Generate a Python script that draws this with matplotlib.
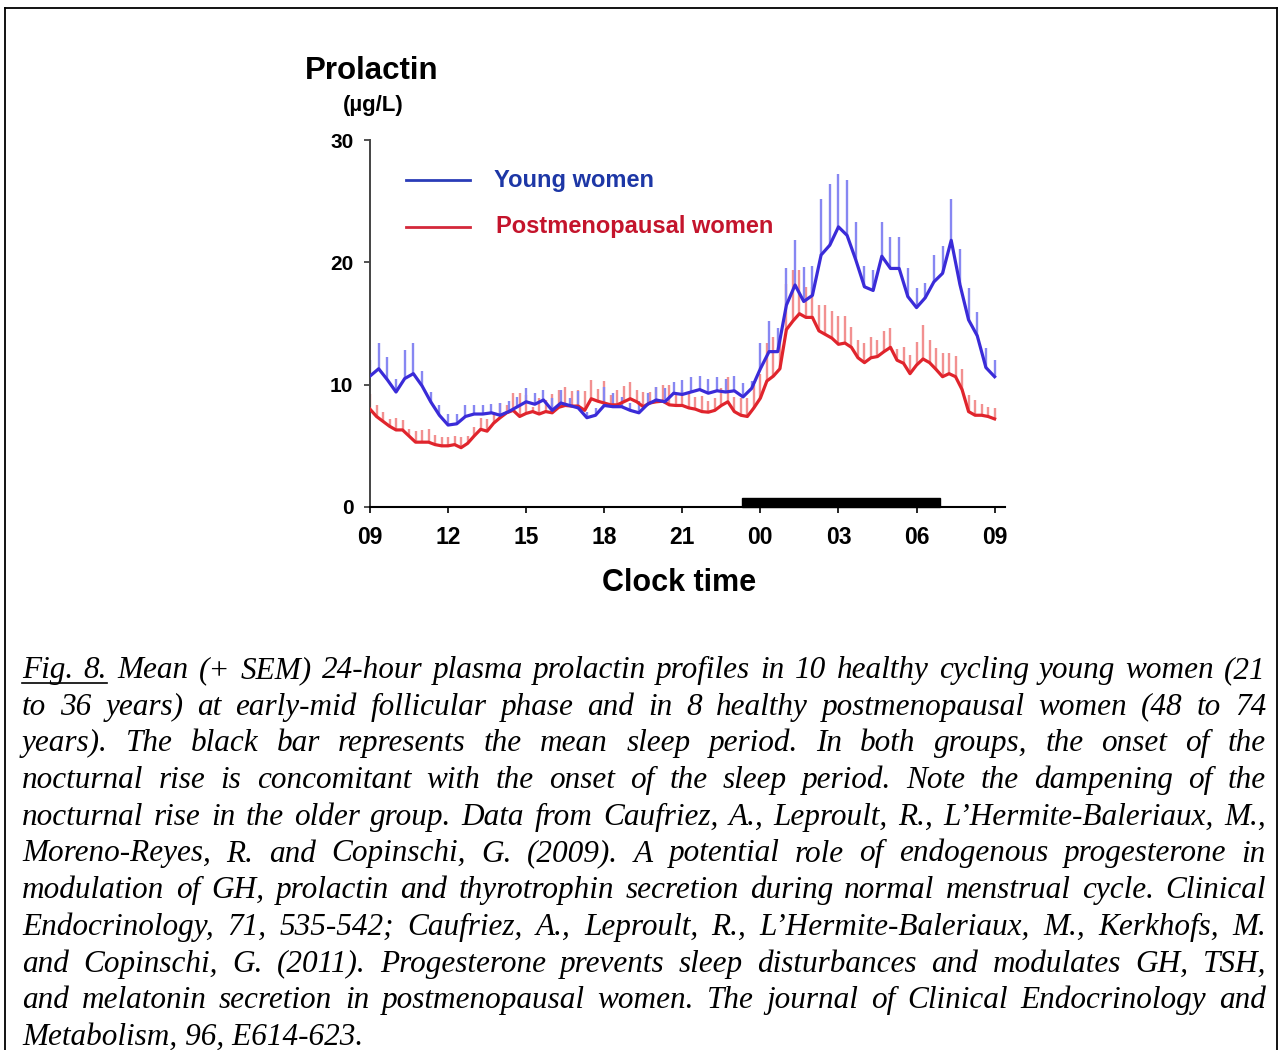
import numpy as np
import matplotlib
matplotlib.use("Agg")
import matplotlib.pyplot as plt
from matplotlib.patches import Rectangle
from matplotlib.lines import Line2D
from matplotlib import font_manager

# mean prolactin (ug/L), young women sampled every 20 min from 09:00
young_mean = [10.7, 11.3, 10.4, 9.4, 10.5, 10.9, 9.9, 8.6, 7.5, 6.7, 6.8, 7.4,
              7.6, 7.6, 7.7, 7.5, 7.8, 8.2, 8.6, 8.4, 8.75, 7.9, 8.5, 8.3,
              8.1, 7.3, 7.5, 8.3, 8.2, 8.2, 7.9, 7.7, 8.4, 8.75, 8.6, 9.3,
              9.2, 9.4, 9.6, 9.3, 9.5, 9.4, 9.5, 9.0, 9.7, 11.3, 12.7, 12.7,
              16.5, 18.15, 16.8, 17.3, 20.6, 21.4, 22.9, 22.2, 20.2, 18.0, 17.7, 20.5, 19.5,
              19.5, 17.2, 16.3, 17.1, 18.4, 19.1, 21.8, 18.2, 15.3, 14.0, 11.4, 10.65]
young_sem = [1.3, 2.1, 1.9, 1.1, 2.3, 2.5, 1.2, 0.8, 0.8, 0.9, 0.8, 0.9,
             0.7, 0.7, 0.7, 1.0, 0.9, 0.8, 1.1, 0.9, 0.85, 1.0, 1.1, 0.6,
             1.4, 0.5, 0.6, 1.5, 1.1, 0.8, 0.6, 1.0, 0.9, 1.05, 1.1, 0.9,
             1.2, 1.2, 1.1, 1.2, 1.1, 1.1, 1.2, 1.1, 0.6, 2.1, 2.5, 1.9,
             3.0, 3.65, 2.8, 2.4, 4.6, 5.0, 4.3, 4.5, 3.1, 1.7, 1.7, 2.8, 2.6,
             2.6, 2.3, 1.6, 1.2, 2.2, 2.2, 3.4, 2.9, 2.6, 1.9, 1.6, 1.35]
young_step = 1 / 3  # hours

# postmenopausal women sampled every 15 min from 09:00
post_mean = [8.0, 7.4, 7.0, 6.6, 6.3, 6.3, 5.8, 5.3, 5.3, 5.3, 5.1, 5.0, 5.0, 5.1, 4.85, 5.2,
             5.8, 6.35, 6.2, 6.85, 7.3, 7.7, 7.9, 7.4, 7.65, 7.8, 7.6, 7.8, 7.7, 8.15, 8.3, 8.25,
             8.25, 7.9, 8.85, 8.65, 8.5, 8.35, 8.35, 8.6, 8.85, 8.6, 8.2, 8.5, 8.6, 8.65, 8.35, 8.3,
             8.3, 8.1, 8.0, 7.8, 7.75, 7.9, 8.3, 8.6, 7.8, 7.5, 7.4, 8.1, 8.9, 10.3, 10.7, 11.3,
             14.5, 15.2, 15.8, 15.5, 15.5, 14.4, 14.1, 13.8, 13.3, 13.4, 13.05, 12.2, 11.8, 12.2, 12.3, 12.7,
             13.05, 12.0, 11.75, 10.9, 11.6, 12.1, 11.8, 11.25, 10.65, 10.9, 10.65, 9.6, 7.8, 7.5, 7.5, 7.4,
             7.2]
post_sem = [1.2, 0.9, 0.8, 0.6, 1.0, 0.8, 0.6, 0.9, 1.0, 1.1, 0.8, 0.7, 0.75, 0.7, 0.9, 0.6,
            0.7, 0.9, 1.0, 0.8, 1.2, 0.6, 1.4, 1.9, 1.5, 0.4, 1.3, 0.95, 1.5, 1.45, 1.5, 1.25,
            1.3, 1.6, 1.5, 1.0, 1.8, 0.8, 1.2, 1.3, 1.4, 1.0, 1.2, 0.9, 1.2, 1.3, 1.6, 1.0,
            1.3, 1.2, 1.0, 1.3, 0.9, 1.0, 1.4, 2.0, 1.2, 1.4, 1.5, 1.9, 2.0, 3.1, 3.2, 2.6,
            3.7, 4.2, 3.6, 2.5, 2.5, 2.1, 2.4, 2.2, 2.3, 2.2, 1.7, 1.45, 1.6, 1.7, 1.35, 1.65,
            1.55, 0.9, 1.35, 1.5, 1.9, 2.8, 1.85, 1.75, 1.95, 1.7, 1.7, 1.65, 1.35, 1.25, 0.9, 0.8,
            0.9]
post_step = 1 / 4

# mean sleep period, hours after 09:00
sleep_start, sleep_end = 14.3, 21.9

tick_hours = [0, 3, 6, 9, 12, 15, 18, 21, 24]
tick_labels = ["09", "12", "15", "18", "21", "00", "03", "06", "09"]

caption_lines = [
    "Fig. 8. Mean (+ SEM) 24-hour plasma prolactin profiles in 10 healthy cycling young women (21",
    "to 36 years) at early-mid follicular phase and in 8 healthy postmenopausal women (48 to 74",
    "years). The black bar represents the mean sleep period. In both groups, the onset of the",
    "nocturnal rise is concomitant with the onset of the sleep period. Note the dampening of the",
    "nocturnal rise in the older group. Data from Caufriez, A., Leproult, R., L\u2019Hermite-Baleriaux, M.,",
    "Moreno-Reyes, R. and Copinschi, G. (2009). A potential role of endogenous progesterone in",
    "modulation of GH, prolactin and thyrotrophin secretion during normal menstrual cycle. Clinical",
    "Endocrinology, 71, 535-542; Caufriez, A., Leproult, R., L\u2019Hermite-Baleriaux, M., Kerkhofs, M.",
    "and Copinschi, G. (2011). Progesterone prevents sleep disturbances and modulates GH, TSH,",
    "and melatonin secretion in postmenopausal women. The journal of Clinical Endocrinology and",
    "Metabolism, 96, E614-623.",
]

plt.rcParams['font.family'] = ['Liberation Sans', 'DejaVu Sans']
installed = {f.name for f in font_manager.fontManager.ttflist}
if 'Liberation Sans Narrow' in installed:
    xtick_font, xtick_size = ['Liberation Sans Narrow', 'Liberation Sans'], 20
else:
    xtick_font, xtick_size = ['Liberation Sans', 'DejaVu Sans'], 16.5

W, H = 1282, 1050
fig = plt.figure(figsize=(W / 100, H / 100), dpi=100)
ax = fig.add_axes([370 / W, 1 - 507 / H, 635 / W, 367 / H])

ym = np.array(young_mean)
ys = np.array(young_sem)
pm = np.array(post_mean)
ps = np.array(post_sem)
yx = np.arange(len(ym)) * young_step
px = np.arange(len(pm)) * post_step

ax.vlines(px, pm, pm + ps, color='#f29090', lw=1.7, zorder=1)
ax.vlines(yx, ym, ym + ys, color='#8787f2', lw=1.7, zorder=2)
ax.plot(px, pm, color='#e0242c', lw=2.3, zorder=3)
ax.plot(yx, ym, color='#3a2bd8', lw=2.3, zorder=4)

ax.add_patch(Rectangle((sleep_start, 0), sleep_end - sleep_start, 0.7,
                       color='black', clip_on=False, zorder=5))

ax.set_xlim(0, 24.4)
ax.set_ylim(0, 30)
ax.set_xticks(tick_hours)
ax.set_xticklabels(tick_labels, fontweight='bold', family=xtick_font, fontsize=xtick_size)
ax.set_yticks([0, 10, 20, 30])
ax.set_yticklabels(["0", "10", "20", "30"], fontweight='bold', fontsize=15)
ax.tick_params(axis='x', direction='out', length=4, width=1.2, pad=10)
ax.tick_params(axis='y', direction='out', length=4, width=1.2, pad=8, colors='#333333',
               labelcolor='black')
for s in ['top', 'right']:
    ax.spines[s].set_visible(False)
ax.spines['left'].set_color('#444444')
ax.spines['left'].set_linewidth(1.4)
ax.spines['bottom'].set_linewidth(1.5)

# legend drawn by hand
ax.plot([0.057, 0.157], [0.891, 0.891], transform=ax.transAxes, color='#2a3cb8', lw=2)
ax.text(0.195, 0.891, "Young women", transform=ax.transAxes, color='#1d37a6',
        fontsize=17, fontweight='bold', va='center')
ax.plot([0.057, 0.157], [0.763, 0.763], transform=ax.transAxes, color='#d4283a', lw=2)
ax.text(0.198, 0.763, "Postmenopausal women", transform=ax.transAxes, color='#c4142c',
        fontsize=17, fontweight='bold', va='center')

fig.text(372 / W, 1 - 71 / H, "Prolactin", ha='center', va='center', fontsize=22.5, fontweight='bold')
fig.text(373 / W, 1 - 105 / H, "(\u00b5g/L)", ha='center', va='center', fontsize=16, fontweight='bold')
fig.text(679 / W, 1 - 583 / H, "Clock time", ha='center', va='center', fontsize=22, fontweight='bold')

# frame around figure and caption
frame = dict(color='black', lw=1.3, transform=fig.transFigure)
fig.lines.append(Line2D([5 / W, 5 / W], [0, 1 - 8 / H], **frame))
fig.lines.append(Line2D([1277 / W, 1277 / W], [0, 1 - 8 / H], **frame))
fig.lines.append(Line2D([5 / W, 1277 / W], [1 - 8 / H, 1 - 8 / H], **frame))

# justified italic caption
fig.canvas.draw()
r = fig.canvas.get_renderer()
cap_kw = dict(fontsize=22.5, fontstyle='italic', family=['Liberation Serif', 'DejaVu Serif'],
              va='baseline', ha='left')
left, right = 22, 1266
for i, line in enumerate(caption_lines):
    yb = 1 - (678 + i * 36.7) / H
    if i == len(caption_lines) - 1:
        fig.text(left / W, yb, line, **cap_kw)
        continue
    words = line.split(' ')
    texts = [fig.text(0, yb, w, **cap_kw) for w in words]
    widths = [t.get_window_extent(r).width for t in texts]
    gap = (right - left - sum(widths)) / (len(words) - 1)
    x = left
    for t, w in zip(texts, widths):
        t.set_x(x / W)
        x += w + gap
    if i == 0:
        ux = left + widths[0] + gap + widths[1]
        uy = 1 - 683 / H
        fig.lines.append(Line2D([left / W, ux / W], [uy, uy], color='black', lw=1.2,
                                transform=fig.transFigure))

fig.savefig("out.png", dpi=100)
